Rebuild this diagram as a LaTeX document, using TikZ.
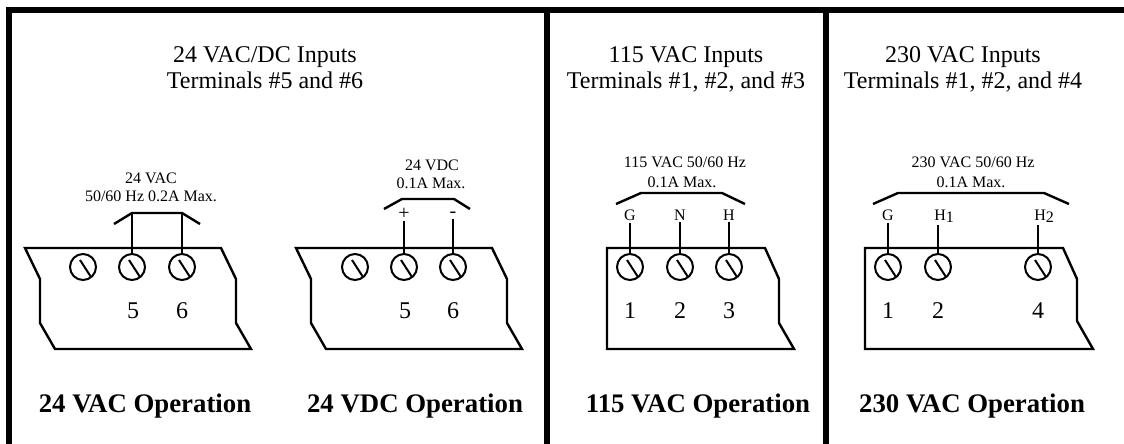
\documentclass[tikz,border=0pt]{standalone}
\usepackage{fontspec}
\setmainfont{Liberation Serif}
\usepackage{tikz}
\usetikzlibrary{positioning}

\begin{document}
\begin{tikzpicture}[
    x=0.5pt, y=-0.5pt,
    frame/.style={line width=2.75pt},
    wire/.style={line width=1.2pt},
    heading/.style={font=\fontsize{12}{14}\selectfont, anchor=base, inner sep=0pt},
    rating/.style={font=\fontsize{8}{9}\selectfont, anchor=base, inner sep=0pt},
    pinlabel/.style={font=\fontsize{8}{9}\selectfont, anchor=base, inner sep=1pt},
    polarity/.style={font=\fontsize{10}{11}\selectfont, inner sep=0.5pt},
    termnum/.style={font=\fontsize{12}{14}\selectfont, anchor=base, inner sep=0pt},
    oplabel/.style={font=\bfseries\fontsize{13.4}{15}\selectfont, anchor=base, inner sep=0pt},
    screw/.style={circle, draw, line width=1pt, minimum size=13pt, inner sep=0pt,
        path picture={\draw[line width=1pt] ([xshift=-1.5pt,yshift=3.5pt]path picture bounding box.center)
            -- ([xshift=4pt,yshift=-5pt]path picture bounding box.center);}}
]
    \useasboundingbox (0,0) rectangle (1124,444);

    % Frame and dividers
    \draw[frame] (9,444) -- (9,10) -- (1124,10);
    \draw[frame] (547,10) -- (547,444);
    \draw[frame] (826,10) -- (826,444);

    % Headings
    \node[heading] (headdc) at (265,63) {24 VAC/DC Inputs};
    \node[heading] (termdc) at (265,89) {Terminals \#5 and \#6};
    \node[heading] (head115) at (686,63) {115 VAC Inputs};
    \node[heading] (term115) at (686,89) {Terminals \#1, \#2, and \#3};
    \node[heading] (head230) at (963,63) {230 VAC Inputs};
    \node[heading] (term230) at (963,89) {Terminals \#1, \#2, and \#4};

    % 24 VAC operation
    \draw[wire] (25,248) -- (221,248) -- (236,279) -- (236,323) -- (251,349)
        -- (55,349) -- (40,323) -- (40,279) -- cycle;
    \node[screw] (aca) at (83,267) {};
    \node[screw] (acb) at (132,267) {};
    \node[screw] (acc) at (182,267) {};
    \node[termnum] at (133,318) {5};
    \node[termnum] at (182,318) {6};
    \node[rating] (acv) at (151,184) {24 VAC};
    \node[rating] (aci) at (151,201) {50/60 Hz 0.2A Max.};
    \coordinate (acl) at (132,213);
    \coordinate (acr) at (182,213);
    \draw[wire] (114,224) -- (acl) -- (acr) -- (200,224);
    \draw[wire] (acl) -- (acb.north);
    \draw[wire] (acr) -- (acc.north);
    \node[oplabel] (opac) at (145,412) {24 VAC Operation};

    % 24 VDC operation
    \draw[wire] (296,248) -- (492,248) -- (507,279) -- (507,323) -- (522,349)
        -- (326,349) -- (311,323) -- (311,279) -- cycle;
    \node[screw] (dca) at (355,267) {};
    \node[screw] (dcb) at (404,267) {};
    \node[screw] (dcc) at (453,267) {};
    \node[termnum] at (405,318) {5};
    \node[termnum] at (453,318) {6};
    \node[rating] (dcv) at (432,170) {24 VDC};
    \node[rating] (dci) at (431,188) {0.1A Max.};
    \draw[wire] (384,209) -- (402,199) -- (454,199) -- (470,209);
    \node[polarity] (plus) at (404,214) {+};
    \node[polarity] (minus) at (453,215) {-};
    \draw[wire] (plus) -- (dcb.north);
    \draw[wire] (minus) -- (dcc.north);
    \node[oplabel] (opdc) at (415,412) {24 VDC Operation};

    % 115 VAC operation
    \draw[wire] (607,248) -- (765,248) -- (779,279) -- (779,323) -- (794,349)
        -- (607,349) -- cycle;
    \node[screw] (ma) at (630,267) {};
    \node[screw] (mb) at (680,267) {};
    \node[screw] (mc) at (729,267) {};
    \node[termnum] at (630,318) {1};
    \node[termnum] at (680,318) {2};
    \node[termnum] at (729,318) {3};
    \node[rating] (mv) at (685,168) {115 VAC 50/60 Hz};
    \node[rating] (mi) at (682,187) {0.1A Max.};
    \draw[wire] (616,204) -- (641,193) -- (722,193) -- (745,204);
    \node[pinlabel] (mg) at (630,220) {G};
    \node[pinlabel] (mn) at (680,220) {N};
    \node[pinlabel] (mh) at (729,220) {H};
    \draw[wire] (mg) -- (ma.north);
    \draw[wire] (mn) -- (mb.north);
    \draw[wire] (mh) -- (mc.north);
    \node[oplabel] (opm) at (698,412) {115 VAC Operation};

    % 230 VAC operation
    \draw[wire] (865,248) -- (1063,248) -- (1077,279) -- (1077,321) -- (1093,349)
        -- (865,349) -- cycle;
    \node[screw] (ha) at (888,267) {};
    \node[screw] (hb) at (938,267) {};
    \node[screw] (hc) at (1038,267) {};
    \node[termnum] at (888,318) {1};
    \node[termnum] at (938,318) {2};
    \node[termnum] at (1038,318) {4};
    \node[rating] (hv) at (973,168) {230 VAC 50/60 Hz};
    \node[rating] (hi) at (971,187) {0.1A Max.};
    \draw[wire] (873,204) -- (898,193) -- (1044,193) -- (1069,204);
    \node[pinlabel] (hg) at (888,220) {G};
    \node[pinlabel, anchor=base west] (hh1) at (932,220) {H\raisebox{-1.5pt}{1}};
    \node[pinlabel, anchor=base west] (hh2) at (1032,220) {H\raisebox{-1.5pt}{2}};
    \draw[wire] (hg) -- (ha.north);
    \draw[wire] (hh1.south -| hb) -- (hb.north);
    \draw[wire] (hh2.south -| hc) -- (hc.north);
    \node[oplabel] (oph) at (972,412) {230 VAC Operation};
\end{tikzpicture}
\end{document}
